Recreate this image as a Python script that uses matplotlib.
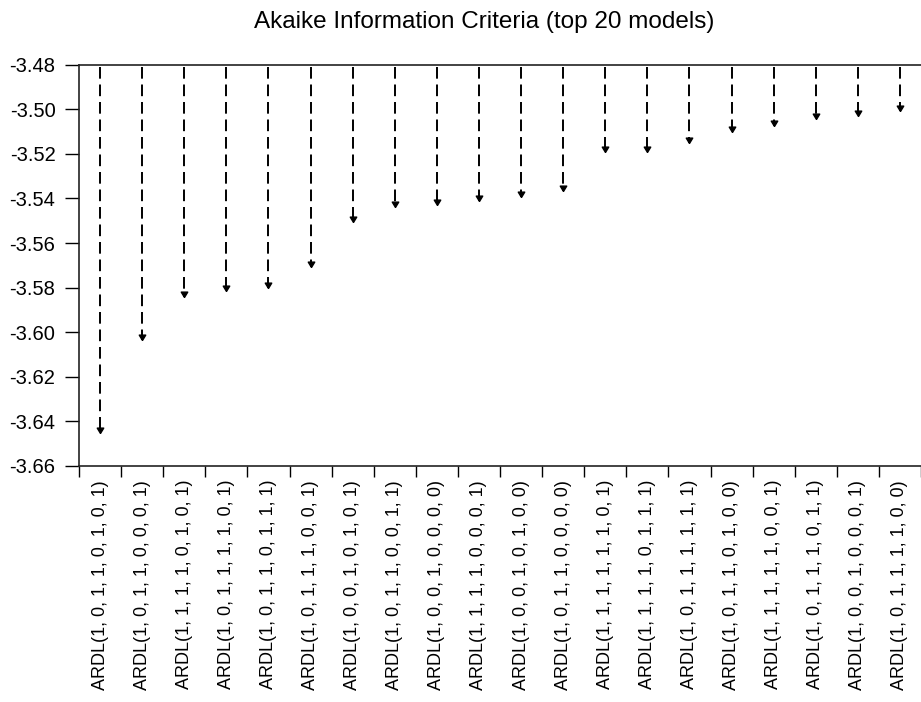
import numpy as np
import matplotlib
matplotlib.use("Agg")
import matplotlib.pyplot as plt

plt.rcParams['font.family'] = ['Liberation Sans', 'DejaVu Sans']

# top 20 models by Akaike criterion
models = [
    "ARDL(1, 0, 1, 1, 0, 1, 0, 1)",
    "ARDL(1, 0, 1, 1, 0, 0, 0, 1)",
    "ARDL(1, 1, 1, 1, 0, 1, 0, 1)",
    "ARDL(1, 0, 1, 1, 1, 1, 0, 1)",
    "ARDL(1, 0, 1, 1, 0, 1, 1, 1)",
    "ARDL(1, 0, 1, 1, 1, 0, 0, 1)",
    "ARDL(1, 0, 0, 1, 0, 1, 0, 1)",
    "ARDL(1, 0, 1, 1, 0, 0, 1, 1)",
    "ARDL(1, 0, 0, 1, 0, 0, 0, 0)",
    "ARDL(1, 1, 1, 1, 0, 0, 0, 1)",
    "ARDL(1, 0, 0, 1, 0, 1, 0, 0)",
    "ARDL(1, 0, 1, 1, 0, 0, 0, 0)",
    "ARDL(1, 1, 1, 1, 1, 1, 0, 1)",
    "ARDL(1, 1, 1, 1, 0, 1, 1, 1)",
    "ARDL(1, 0, 1, 1, 1, 1, 1, 1)",
    "ARDL(1, 0, 1, 1, 0, 1, 0, 0)",
    "ARDL(1, 1, 1, 1, 1, 0, 0, 1)",
    "ARDL(1, 0, 1, 1, 1, 0, 1, 1)",
    "ARDL(1, 0, 0, 1, 0, 0, 0, 1)",
    "ARDL(1, 0, 1, 1, 1, 1, 0, 0)",
]
aic = [-3.6453, -3.6035, -3.5840, -3.5813, -3.5803, -3.5709, -3.5504,
       -3.5437, -3.5429, -3.5410, -3.5392, -3.5366, -3.5192, -3.5193,
       -3.5150, -3.5103, -3.5075, -3.5043, -3.5032, -3.5008]
yticks = [-3.48, -3.50, -3.52, -3.54, -3.56, -3.58, -3.60, -3.62, -3.64, -3.66]

fig = plt.figure(figsize=(9.21, 7.02), dpi=100)
ax = fig.add_axes([0.0858, 0.3362, 0.9142, 0.5716])

x = np.arange(len(models)) + 0.5
top = max(yticks)
ax.vlines(x, top - 0.001, aic, colors='black', linestyles=(0, (6, 3)), linewidth=1.4)
# arrow head with tip at the value
head = [(0, 0), (-0.6, 1), (0.6, 1), (0, 0)]
ax.scatter(x, aic, marker=head, s=60, color='black', zorder=3)

ax.set_xlim(0, len(models))
ax.set_ylim(min(yticks), top)
ax.set_yticks(yticks)
ax.set_yticklabels([f"{v:.2f}" for v in yticks])
ax.set_xticks(np.arange(len(models) + 1))
ax.set_xticklabels([])
ax.set_xticks(x, minor=True)
ax.set_xticklabels(models, minor=True, rotation=90, va='top', ha='center')

ax.tick_params(axis='y', direction='out', length=10, width=1, pad=7, labelsize=14.5)
ax.tick_params(axis='x', which='major', direction='out', length=8, width=1)
ax.tick_params(axis='x', which='minor', length=0, pad=10, labelsize=13)

ax.spines['right'].set_visible(False)
for s in ['left', 'top', 'bottom']:
    ax.spines[s].set_linewidth(1.2)
    ax.spines[s].set_color('#222222')

fig.text(0.5255, 0.968, "Akaike Information Criteria (top 20 models)",
         ha='center', va='center', fontsize=17.5)

fig.savefig("out.png", dpi=100)
